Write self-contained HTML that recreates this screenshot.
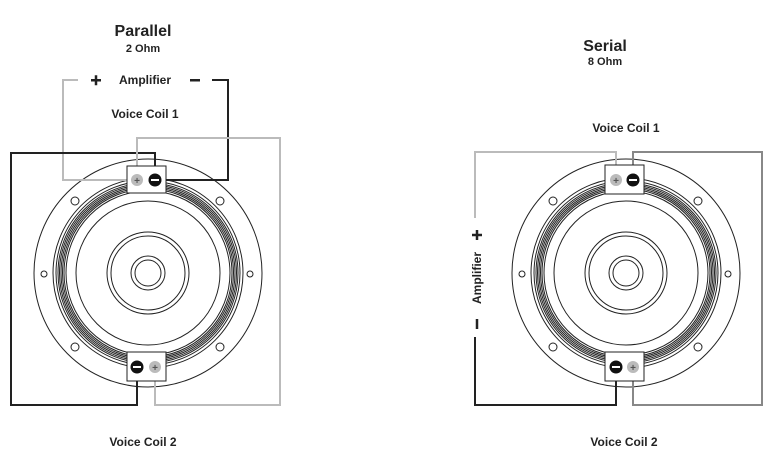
<!DOCTYPE html>
<html><head><style>body{margin:0;background:#fff}svg{display:block}text{font-family:"Liberation Sans",Arial,sans-serif;font-weight:bold;fill:#222}</style></head>
<body>
<svg width="770" height="469" viewBox="0 0 770 469" xmlns="http://www.w3.org/2000/svg">
<defs>
<g id="spk" fill="none" stroke="#222">
<circle r="114" stroke-width="1"/>
<circle r="95" stroke-width="1"/>
<circle r="92" stroke-width="1"/>
<circle r="90" stroke-width="1"/>
<circle r="88.5" stroke-width="1"/>
<circle r="87" stroke-width="1"/>
<circle r="85.5" stroke-width="1"/>
<circle r="84" stroke-width="1"/>
<circle r="82" stroke-width="1"/>
<circle r="72" stroke-width="1"/>
<circle r="41" stroke-width="1"/>
<circle r="37" stroke-width="1"/>
<circle r="17" stroke-width="1"/>
<circle r="13" stroke-width="1"/>
<circle cx="-73" cy="-72" r="4" stroke-width="1"/>
<circle cx="72" cy="-72" r="4" stroke-width="1"/>
<circle cx="-73" cy="74" r="4" stroke-width="1"/>
<circle cx="72" cy="74" r="4" stroke-width="1"/>
<circle cx="-104" cy="1" r="3" stroke-width="1"/>
<circle cx="102" cy="1" r="3" stroke-width="1"/>
</g>
</defs>

<!-- LEFT -->
<text x="143" y="36" font-size="16" text-anchor="middle">Parallel</text>
<text x="143" y="52" font-size="11" text-anchor="middle">2 Ohm</text>
<text x="145" y="84" font-size="12" text-anchor="middle">Amplifier</text>
<rect x="91" y="79" width="10" height="2.5" fill="#222"/><rect x="94.75" y="75.25" width="2.5" height="10" fill="#222"/>
<rect x="190" y="79" width="10" height="2.5" fill="#222"/>
<text x="145" y="118" font-size="12" text-anchor="middle">Voice Coil 1</text>
<text x="143" y="446" font-size="12" text-anchor="middle">Voice Coil 2</text>
<g transform="translate(148,273)"><use href="#spk"/></g>
<g fill="none" stroke-width="2">
<polyline points="132,180 63,180 63,80 78,80" stroke="#bbb"/>
<polyline points="212,80 228,80 228,180 160,180" stroke="#222"/>
<polyline points="155,175 155,153 11,153 11,405 137,405 137,372" stroke="#222"/>
<polyline points="137,175 137,138 280,138 280,405 155,405 155,372" stroke="#bbb"/>
</g>
<rect x="127" y="166" width="39" height="27" fill="#fff" stroke="#222"/>
<rect x="127" y="352" width="39" height="29" fill="#fff" stroke="#222"/>
<circle cx="137" cy="180" r="6" fill="#bbb"/><text x="137" y="184" font-size="10" text-anchor="middle" style="fill:#555">+</text>
<circle cx="155" cy="180" r="6.5" fill="#111"/><rect x="151" y="179" width="8" height="2" fill="#fff"/>
<circle cx="137" cy="367" r="6.5" fill="#111"/><rect x="133" y="366" width="8" height="2" fill="#fff"/>
<circle cx="155" cy="367" r="6" fill="#bbb"/><text x="155" y="371" font-size="10" text-anchor="middle" style="fill:#555">+</text>

<!-- RIGHT -->
<text x="605" y="51" font-size="16" text-anchor="middle">Serial</text>
<text x="605" y="65" font-size="11" text-anchor="middle">8 Ohm</text>
<text x="626" y="132" font-size="12" text-anchor="middle">Voice Coil 1</text>
<text x="624" y="446" font-size="12" text-anchor="middle">Voice Coil 2</text>
<text transform="translate(481,278) rotate(-90)" font-size="12" text-anchor="middle">Amplifier</text>
<rect x="475.75" y="230" width="2.5" height="10" fill="#222"/><rect x="472" y="233.75" width="10" height="2.5" fill="#222"/>
<rect x="475.75" y="319" width="2.5" height="10" fill="#222"/>
<g transform="translate(626,273)"><use href="#spk"/></g>
<g fill="none" stroke-width="2">
<polyline points="616,175 616,152 475,152 475,218" stroke="#bbb"/>
<polyline points="475,337 475,405 616,405 616,372" stroke="#222"/>
<polyline points="633,175 633,152 762,152 762,405 633,405 633,372" stroke="#888"/>
</g>
<rect x="605" y="165" width="39" height="29" fill="#fff" stroke="#222"/>
<rect x="605" y="352" width="39" height="29" fill="#fff" stroke="#222"/>
<circle cx="616" cy="180" r="6" fill="#bbb"/><text x="616" y="184" font-size="10" text-anchor="middle" style="fill:#555">+</text>
<circle cx="633" cy="180" r="6.5" fill="#111"/><rect x="629" y="179" width="8" height="2" fill="#fff"/>
<circle cx="616" cy="367" r="6.5" fill="#111"/><rect x="612" y="366" width="8" height="2" fill="#fff"/>
<circle cx="633" cy="367" r="6" fill="#bbb"/><text x="633" y="371" font-size="10" text-anchor="middle" style="fill:#555">+</text>
</svg>
</body></html>
